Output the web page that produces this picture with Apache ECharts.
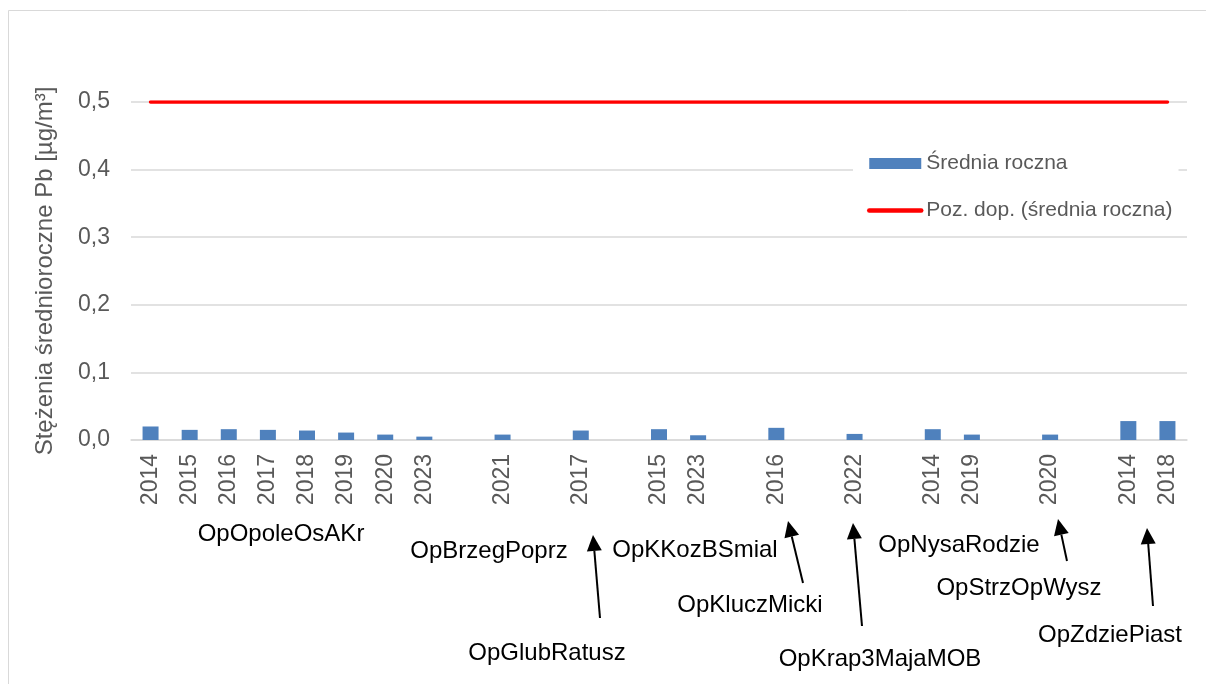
<!DOCTYPE html>
<html>
<head>
<meta charset="utf-8">
<script src="https://cdn.jsdelivr.net/npm/echarts@6/dist/echarts.min.js"></script>
<style>
  html, body { margin: 0; padding: 0; background: #fff; }
  #chart { width: 1206px; height: 684px; }
</style>
</head>
<body>
<div id="chart"></div>
<script>
// Years measured at each station; empty strings separate the station groups
const categories = ['2014', '2015', '2016', '2017', '2018', '2019', '2020', '2023', '',
  '2021', '', '2017', '', '2015', '2023', '', '2016', '', '2022', '',
  '2014', '2019', '', '2020', '', '2014', '2018'];

// Annual mean Pb concentration [µg/m³]
const sredniaRoczna = [0.020, 0.015, 0.016, 0.015, 0.014, 0.011, 0.008, 0.005, null,
  0.008, null, 0.014, null, 0.016, 0.007, null, 0.018, null, 0.009, null,
  0.016, 0.008, null, 0.008, null, 0.028, 0.028];

// Permissible level (annual mean) [µg/m³]
const pozDop = [0.5, 0.5, 0.5, 0.5, 0.5, 0.5, 0.5, 0.5, 0.5,
  0.5, 0.5, 0.5, 0.5, 0.5, 0.5, 0.5, 0.5, 0.5, 0.5, 0.5,
  0.5, 0.5, 0.5, 0.5, 0.5, 0.5, 0.5];

const seriesNames = ['Średnia roczna', 'Poz. dop. (średnia roczna)'];
const yTicks = [0, 0.1, 0.2, 0.3, 0.4, 0.5];

// Station names
const stations = ['OpOpoleOsAKr', 'OpBrzegPoprz', 'OpGlubRatusz', 'OpKKozBSmial',
  'OpKluczMicki', 'OpKrap3MajaMOB', 'OpNysaRodzie', 'OpStrzOpWysz', 'OpZdziePiast'];

// Label placement below the axis: text centre and optional arrow (from -> tip)
const stationLayout = [
  { x: 281, y: 534 },
  { x: 489, y: 551 },
  { x: 547, y: 653, arrow: [600, 618, 593, 535] },
  { x: 695, y: 550 },
  { x: 750, y: 605, arrow: [803, 583, 788, 521] },
  { x: 880, y: 659, arrow: [862, 626, 853, 523] },
  { x: 959, y: 545 },
  { x: 1019, y: 588, arrow: [1067, 561, 1058, 519] },
  { x: 1110, y: 635, arrow: [1153, 606, 1147, 528] }
];

const FONT = "'Liberation Sans', Arial, sans-serif";
const GREY = '#595959';

function arrowShapes(x1, y1, x2, y2) {
  const dx = x2 - x1, dy = y2 - y1;
  const len = Math.hypot(dx, dy);
  const ux = dx / len, uy = dy / len;
  const headL = 16, headW = 7.5;
  const bx = x2 - ux * headL, by = y2 - uy * headL;
  return [
    { type: 'line', shape: { x1: x1, y1: y1, x2: bx, y2: by },
      style: { stroke: '#000', lineWidth: 2 } },
    { type: 'polygon',
      shape: { points: [[x2, y2], [bx - uy * headW, by + ux * headW], [bx + uy * headW, by - ux * headW]] },
      style: { fill: '#000' } }
  ];
}

const graphics = [
  { type: 'rect', shape: { x: 8.5, y: 10.5, width: 1400, height: 900 },
    style: { fill: 'none', stroke: '#d9d9d9', lineWidth: 1 }, silent: true }
];
stations.forEach(function (name, i) {
  const p = stationLayout[i];
  graphics.push({
    type: 'text', x: p.x, y: p.y,
    style: { text: name, fill: '#000', font: '24px ' + FONT, align: 'center', verticalAlign: 'middle' }
  });
  if (p.arrow) {
    arrowShapes.apply(null, p.arrow).forEach(function (g) { graphics.push(g); });
  }
});

const chart = echarts.init(document.getElementById('chart'));
chart.setOption({
  animation: false,
  backgroundColor: '#fff',
  textStyle: { fontFamily: FONT },
  grid: { left: 131, right: 19, top: 102, bottom: 244, containLabel: false },
  legend: {
    orient: 'vertical',
    left: 853,
    top: 133,
    padding: [20, 6, 12, 14],
    backgroundColor: '#fff',
    itemWidth: 52,
    itemHeight: 11,
    itemGap: 26,
    textStyle: { color: GREY, fontSize: 21, fontFamily: FONT },
    data: [
      { name: seriesNames[0], icon: 'rect' },
      {
        name: seriesNames[1],
        itemStyle: { color: 'rgba(0,0,0,0)', borderWidth: 0 },
        lineStyle: { color: '#ff0000', width: 4.5, cap: 'round' }
      }
    ]
  },
  xAxis: {
    type: 'category',
    data: categories,
    boundaryGap: true,
    axisLine: { lineStyle: { color: '#d9d9d9', width: 1.5 } },
    axisTick: { show: false },
    axisLabel: { interval: 0, rotate: 90, margin: 14, color: GREY, fontSize: 23, fontFamily: FONT }
  },
  yAxis: {
    type: 'value',
    min: yTicks[0],
    max: yTicks[yTicks.length - 1],
    interval: 0.1,
    name: 'Stężenia średnioroczne Pb [µg/m³]',
    nameLocation: 'middle',
    nameGap: 74,
    nameTextStyle: { color: GREY, fontSize: 24, fontFamily: FONT },
    axisLine: { show: false },
    axisTick: { show: false },
    splitLine: { lineStyle: { color: '#d9d9d9', width: 1.5 } },
    axisLabel: {
      margin: 21, color: GREY, fontSize: 23, fontFamily: FONT,
      formatter: function (v) { return v.toFixed(1).replace('.', ','); }
    }
  },
  series: [
    {
      name: seriesNames[0],
      type: 'bar',
      data: sredniaRoczna,
      barWidth: 16,
      itemStyle: { color: '#4f81bd' }
    },
    {
      name: seriesNames[1],
      type: 'line',
      data: pozDop,
      symbol: 'none',
      z: 3,
      lineStyle: { color: '#ff0000', width: 3.5, cap: 'round' },
      itemStyle: { color: '#ff0000' }
    }
  ],
  graphic: graphics
});
</script>
</body>
</html>
